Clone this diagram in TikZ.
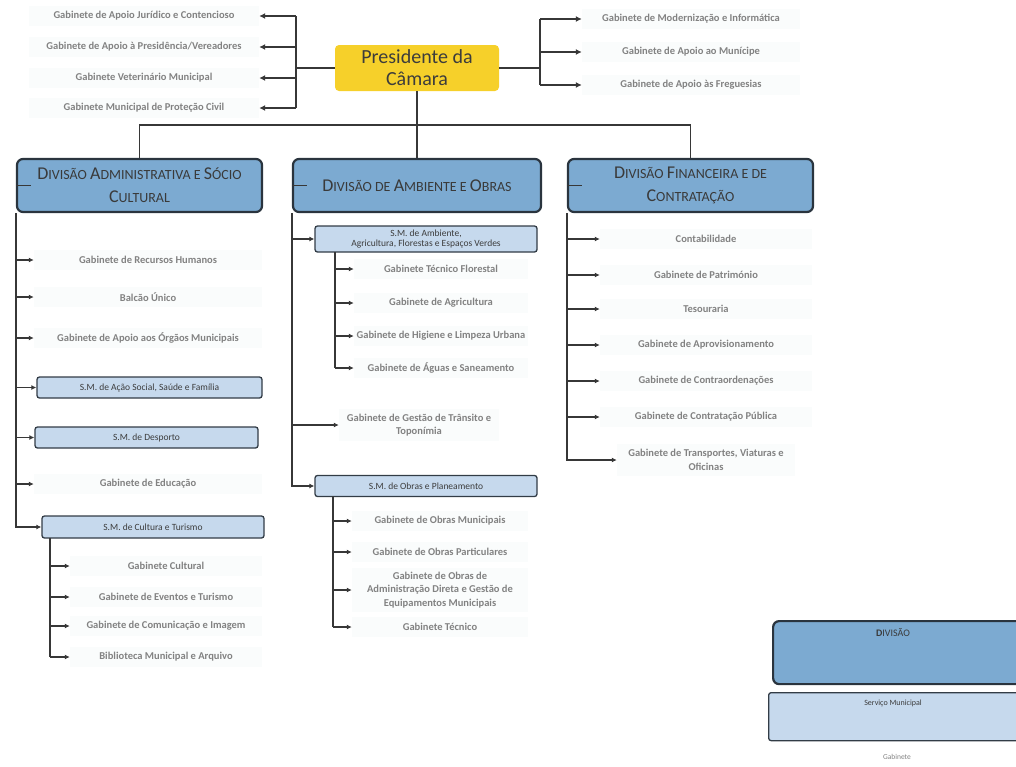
\documentclass[tikz,border=0pt]{standalone}
\usepackage{fontspec}
\setmainfont{Carlito}
\usetikzlibrary{arrows.meta}
\definecolor{presY}{RGB}{246,208,42}
\definecolor{presT}{RGB}{60,60,60}
\definecolor{lineC}{RGB}{55,55,55}
\definecolor{gabT}{RGB}{130,130,130}
\definecolor{gabF}{RGB}{250,252,252}
\definecolor{divF}{RGB}{124,170,209}
\definecolor{divB}{RGB}{42,52,62}
\definecolor{divT}{RGB}{58,58,58}
\definecolor{smF}{RGB}{198,217,237}
\definecolor{smB}{RGB}{50,60,70}
\definecolor{smT}{RGB}{60,60,60}
\newcommand{\capL}[1]{{\fontsize{18}{23}\selectfont #1}}
\begin{document}
\begin{tikzpicture}[x=1pt,y=-1pt,
  conn/.style={draw=lineC, line width=1.3pt},
  bconn/.style={draw=lineC, line width=2pt},
  arr/.style={conn,-{Latex[length=5pt,width=5pt]}},
  barr/.style={bconn,-{Latex[length=6pt,width=6pt]}},
  gab/.style={fill=gabF, text=gabT, font=\fontsize{10.5}{13.5}\selectfont\bfseries, align=center, inner sep=1pt, minimum height=20pt},
  pres/.style={fill=presY, text=presT, rounded corners=4pt, minimum width=164pt, minimum height=46pt, inner sep=0pt, align=center, font=\fontsize{20}{22}\selectfont},
  divbox/.style={draw=divB, fill=divF, line width=2.2pt, rounded corners=6pt, text=divT, align=center, minimum height=53pt, inner sep=0pt, font=\fontsize{14}{23}\selectfont},
  smbox/.style={draw=smB, fill=smF, line width=1.3pt, rounded corners=2.5pt, text=smT, align=center, inner sep=0pt, font=\fontsize{9.5}{10.5}\selectfont},
]
\useasboundingbox (0,0) rectangle (1016,766);
\clip (0,0) rectangle (1016,766);

% President
\node[pres] (pres) at (417,68) {Presidente da\\Câmara};

% top-left offices
\node[gab, minimum width=230pt] (tl1) at (144,16) {Gabinete de Apoio Jurídico e Contencioso};
\node[gab, minimum width=230pt] (tl2) at (144,47) {Gabinete de Apoio à Presidência/Vereadores};
\node[gab, minimum width=230pt] (tl3) at (144,78) {Gabinete Veterinário Municipal};
\node[gab, minimum width=230pt] (tl4) at (144,108) {Gabinete Municipal de Proteção Civil};

% top-right offices
\node[gab, minimum width=218pt] (tr1) at (691,19) {Gabinete de Modernização e Informática};
\node[gab, minimum width=218pt] (tr2) at (691,52) {Gabinete de Apoio ao Munícipe};
\node[gab, minimum width=218pt] (tr3) at (691,85) {Gabinete de Apoio às Freguesias};

\coordinate (bl) at (296,68);
\coordinate (br) at (540,68);
\draw[bconn] (pres.west) -- (bl);
\draw[bconn] (bl |- tl1) -- (bl |- tl4);
\foreach \n in {tl1,tl2,tl3,tl4} \draw[barr] (bl |- \n) -- (\n.east);
\draw[bconn] (pres.east) -- (br);
\draw[bconn] (br |- tr1) -- (br |- tr3);
\foreach \n in {tr1,tr2,tr3} \draw[barr] (br |- \n) -- (\n.west);

% Divisions
\node[divbox, minimum width=245pt] (divA) at (139.5,185.5) {\capL{D}IVISÃO \capL{A}DMINISTRATIVA E \capL{S}ÓCIO\\\capL{C}ULTURAL};
\node[divbox, minimum width=248pt] (divB) at (417,185.5) {\capL{D}IVISÃO DE \capL{A}MBIENTE E \capL{O}BRAS};
\node[divbox, minimum width=245pt] (divC) at (690.5,185.5) {\capL{D}IVISÃO \capL{F}INANCEIRA E DE\\\capL{C}ONTRATAÇÃO};

\coordinate (hub) at (417,125);
\draw[conn] (pres.south) -- (hub);
\draw[conn] (divA.north) |- (hub) -| (divC.north);
\draw[conn] (hub) -- (divB.north);
\draw[conn] (divA.west) -- ++(15,0);
\draw[conn] (divB.west) -- ++(15,0);
\draw[conn] (divC.west) -- ++(15,0);

% Left column
\node[gab, minimum width=228pt] (l1) at (148,260) {Gabinete de Recursos Humanos};
\node[gab, minimum width=228pt] (l2) at (148,297) {Balcão Único};
\node[gab, minimum width=228pt] (l3) at (148,338) {Gabinete de Apoio aos Órgãos Municipais};
\node[smbox, minimum width=225pt, minimum height=21pt] (smAS) at (149.5,387.5) {S.M. de Ação Social, Saúde e Família};
\node[smbox, minimum width=223pt, minimum height=21pt] (smDe) at (146.5,437.5) {S.M. de Desporto};
\node[gab, minimum width=228pt] (l4) at (148,484) {Gabinete de Educação};
\node[smbox, minimum width=222pt, minimum height=22pt] (smCu) at (153,527) {S.M. de Cultura e Turismo};
\foreach \n in {l1,l2,l3,smAS,smDe,l4} \draw[arr] (divA.south west |- \n.west) -- (\n.west);
\draw[arr] (divA.south west) |- (smCu.west);

\node[gab, minimum width=192pt] (c1) at (166,566) {Gabinete Cultural};
\node[gab, minimum width=192pt] (c2) at (166,597) {Gabinete de Eventos e Turismo};
\node[gab, minimum width=192pt] (c3) at (166,626) {Gabinete de Comunicação e Imagem};
\node[gab, minimum width=192pt] (c4) at (166,657) {Biblioteca Municipal e Arquivo};
\coordinate (cs) at (50,538);
\draw[conn] (cs) -- (cs |- c4);
\foreach \n in {c1,c2,c3,c4} \draw[arr] (cs |- \n) -- (\n.west);

% Middle column
\node[smbox, minimum width=222pt, minimum height=26pt] (smAm) at (426,239) {S.M. de Ambiente,\\Agricultura, Florestas e Espaços Verdes};
\node[gab, minimum width=174pt] (a1) at (441,269) {Gabinete Técnico Florestal};
\node[gab, minimum width=174pt] (a2) at (441,303) {Gabinete de Agricultura};
\node[gab, minimum width=174pt] (a3) at (441,336) {Gabinete de Higiene e Limpeza Urbana};
\node[gab, minimum width=174pt] (a4) at (441,368) {Gabinete de Águas e Saneamento};
\coordinate (as) at (335,252);
\draw[conn] (as) -- (as |- a4);
\foreach \n in {a1,a2,a3,a4} \draw[arr] (as |- \n) -- (\n.west);

\node[gab, minimum width=160pt, minimum height=32pt] (gt) at (419,425) {Gabinete de Gestão de Trânsito e\\Toponímia};
\node[smbox, minimum width=222pt, minimum height=21pt] (smOb) at (426,486) {S.M. de Obras e Planeamento};
\foreach \n in {smAm,gt} \draw[arr] (divB.south west |- \n.west) -- (\n.west);
\draw[arr] (divB.south west) |- (smOb.west);

\node[gab, minimum width=176pt] (o1) at (440,521) {Gabinete de Obras Municipais};
\node[gab, minimum width=176pt] (o2) at (440,552) {Gabinete de Obras Particulares};
\node[gab, minimum width=176pt, minimum height=44pt] (o3) at (440,590) {Gabinete de Obras de\\Administração Direta e Gestão de\\Equipamentos Municipais};
\node[gab, minimum width=176pt] (o4) at (440,627) {Gabinete Técnico};
\coordinate (os) at (333,496);
\draw[conn] (os) -- (os |- o4);
\foreach \n in {o1,o2,o3,o4} \draw[arr] (os |- \n) -- (\n.west);

% Right column
\node[gab, minimum width=212pt] (r1) at (706,239) {Contabilidade};
\node[gab, minimum width=212pt] (r2) at (706,275) {Gabinete de Património};
\node[gab, minimum width=212pt] (r3) at (706,309) {Tesouraria};
\node[gab, minimum width=212pt] (r4) at (706,345) {Gabinete de Aprovisionamento};
\node[gab, minimum width=212pt] (r5) at (706,381) {Gabinete de Contraordenações};
\node[gab, minimum width=212pt] (r6) at (706,417) {Gabinete de Contratação Pública};
\node[gab, minimum width=178pt, minimum height=32pt] (r7) at (706,460) {Gabinete de Transportes, Viaturas e\\Oficinas};
\foreach \n in {r1,r2,r3,r4,r5,r6} \draw[arr] (divC.south west |- \n.west) -- (\n.west);
\draw[arr] (divC.south west) |- (r7.west);

% Legend
\node[divbox, minimum width=270pt, minimum height=63pt, anchor=north west] (lgD) at (772,620) {};
\node[text=divT, font=\fontsize{10}{12}\selectfont, inner sep=1pt] (lgDt) at (893,633) {\textbf{D}IVISÃO};
\node[smbox, minimum width=270pt, minimum height=48pt, anchor=north west] (lgS) at (768,692) {};
\node[text=smT, font=\fontsize{8}{10}\selectfont, inner sep=1pt] (lgSt) at (893,703) {Serviço Municipal};
\node[gab, fill=none, font=\fontsize{7.5}{9}\selectfont, minimum height=12pt] (lgG) at (897,757) {Gabinete};
\end{tikzpicture}
\end{document}
